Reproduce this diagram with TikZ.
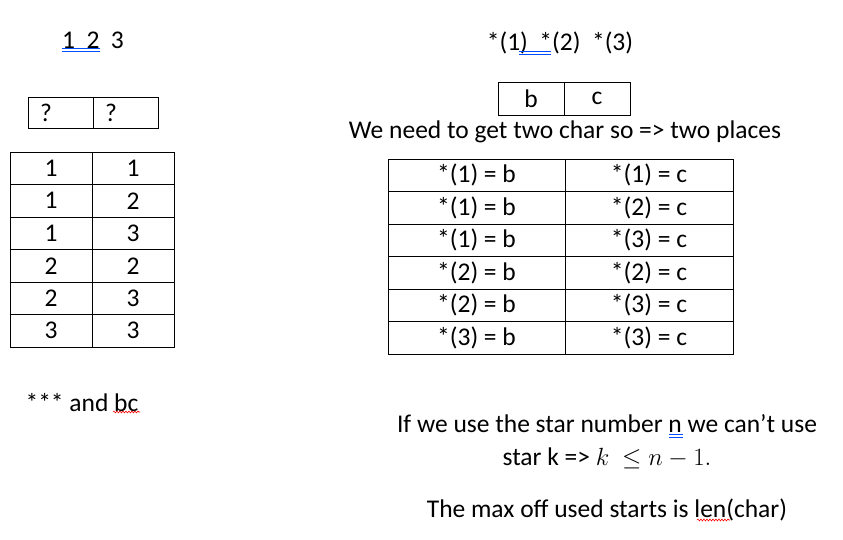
\documentclass[tikz,border=0pt]{standalone}
\usepackage{fontspec}
\setmainfont{Carlito}
\usetikzlibrary{positioning,decorations.pathmorphing}

\begin{document}
\begin{tikzpicture}[x=1pt,y=-1pt,node distance=0pt,
		every node/.style={font=\fontsize{25.5}{30}\selectfont},
		numcell/.style={rectangle,draw,minimum width=82pt,minimum height=32.5pt,inner sep=0pt,outer sep=0pt},
		qcell/.style={rectangle,draw,text width=41pt,minimum height=31pt,inner xsep=12pt,inner ysep=0pt,outer sep=0pt,align=left},
		charcell/.style={rectangle,draw,minimum width=66pt,minimum height=33pt,inner sep=0pt,outer sep=0pt},
		starcell/.style={rectangle,draw,minimum width=177pt,minimum height=32.5pt,inner sep=0pt,outer sep=0pt},
		dblblue/.style={draw=blue!70!cyan,line width=0.8pt},
		wavyred/.style={draw=red,line width=0.6pt,decorate,decoration={snake,amplitude=0.9pt,segment length=3pt}}]
		
		\useasboundingbox (0,0) rectangle (843,540);
		
		% headings
		\node (N123) at (93,40) {1\ \ 2\ \ 3};
		\node (STARS) at (560,43) {*(1)\ \ *(2)\ \ *(3)};
		\draw[dblblue] (62,48) -- (100,48);
		\draw[dblblue] (62,51) -- (100,51);
		\draw[dblblue] (519,51) -- (551,51);
		\draw[dblblue] (519,54) -- (551,54);
		
		% two unknown places
		\node[qcell,anchor=north west] (Q0) at (28,97) {?};
		\node[qcell,right=of Q0] (Q1) {?};
		
		% two chars
		\node[charcell,anchor=north west] (B) at (498,82) {b};
		\node[charcell,right=of B] (C) {c};
		\node (NEED) at (565,132) {We need to get two char so => two places};
		
		% left table
		\node[numcell,anchor=north west] (L0) at (10,152) {1};
		\node[numcell,right=of L0] (R0) {1};
		\node[numcell,below=of L0] (L1) {1};
		\node[numcell,below=of R0] (R1) {2};
		\node[numcell,below=of L1] (L2) {1};
		\node[numcell,below=of R1] (R2) {3};
		\node[numcell,below=of L2] (L3) {2};
		\node[numcell,below=of R2] (R3) {2};
		\node[numcell,below=of L3] (L4) {2};
		\node[numcell,below=of R3] (R4) {3};
		\node[numcell,below=of L4] (L5) {3};
		\node[numcell,below=of R4] (R5) {3};
		
		% right table
		\node[starcell,anchor=north west] (SB0) at (388,159) {*(1) = b};
		\node[starcell,minimum width=168pt,right=of SB0] (SC0) {*(1) = c};
		\node[starcell,below=of SB0] (SB1) {*(1) = b};
		\node[starcell,minimum width=168pt,below=of SC0] (SC1) {*(2) = c};
		\node[starcell,below=of SB1] (SB2) {*(1) = b};
		\node[starcell,minimum width=168pt,below=of SC1] (SC2) {*(3) = c};
		\node[starcell,below=of SB2] (SB3) {*(2) = b};
		\node[starcell,minimum width=168pt,below=of SC2] (SC3) {*(2) = c};
		\node[starcell,below=of SB3] (SB4) {*(2) = b};
		\node[starcell,minimum width=168pt,below=of SC3] (SC4) {*(3) = c};
		\node[starcell,below=of SB4] (SB5) {*(3) = b};
		\node[starcell,minimum width=168pt,below=of SC4] (SC5) {*(3) = c};
		
		% notes
		\node (ANDBC) at (82,403) {*** and bc};
		\draw[wavyred] (113,412) -- (140,412);
		
		\node (IFWE) at (607,424) {If we use the star number n we can’t use};
		\draw[dblblue] (669,434) -- (683,434);
		\draw[dblblue] (669,437) -- (683,437);
		\node (STARK) at (607,458) {star k =>\ $k\ \le n-1.$};
		\node (MAXOFF) at (607,510) {The max off used starts is len(char)};
		\draw[wavyred] (697,520) -- (730,520);
		
	\end{tikzpicture}
\end{document}
